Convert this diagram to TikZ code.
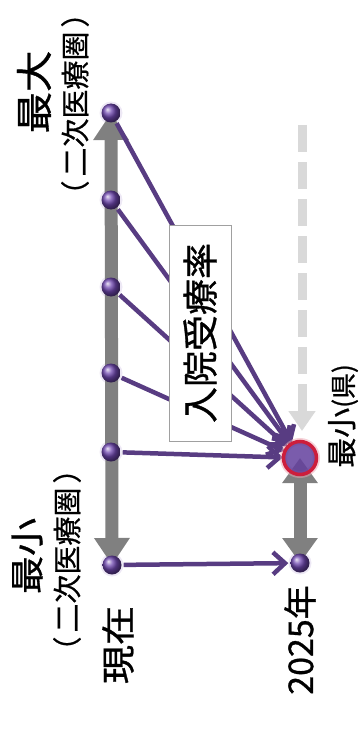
\documentclass[tikz,border=0pt]{standalone}
\usepackage{fontspec}
\newfontfamily\jp[FakeBold=0.9]{Noto Sans CJK JP}
\newfontfamily\jpl[FakeBold=0.6]{Noto Sans CJK JP}
\usetikzlibrary{arrows.meta}
\definecolor{linepurple}{RGB}{88,60,130}
\definecolor{dotpurple}{RGB}{110,70,175}
\definecolor{axisgray}{RGB}{128,128,128}
\definecolor{dashgray}{RGB}{217,217,217}
\definecolor{ringred}{RGB}{205,30,60}
\definecolor{boxgray}{RGB}{160,160,160}
\tikzset{
  dot/.style={circle,inner sep=0pt,minimum size=19pt,shading=ball,ball color=dotpurple},
  halo/.style={circle,inner sep=0pt,minimum size=23pt,fill=dotpurple!25,fill opacity=0.5},
  axis/.style={draw=axisgray,line width=13pt,{Triangle[width=34pt,length=27pt]}-{Triangle[width=34pt,length=27pt]}},
  flow/.style={draw=linepurple,line width=4.5pt,-{Straight Barb[length=12pt,width=22pt,line width=4.5pt]}},
  lbl/.style={rotate=90,inner sep=0pt,font=\jp},
}
\newcommand{\fs}[1]{\fontsize{#1}{#1}\selectfont}
\newcommand{\lpar}{\makebox[17pt][l]{\hspace*{-0.55em}（}}
\newcommand{\rpar}{\makebox[17pt][r]{）\hspace*{-0.55em}}}
\begin{document}
\begin{tikzpicture}[x=1pt,y=-1pt]
\useasboundingbox (0,0) rectangle (363,733);
% anchor nodes
\node[halo] (d1) at (111,113) {};
\node[halo] (d2) at (111,200) {};
\node[halo] (d3) at (111,287) {};
\node[halo] (d4) at (111,373) {};
\node[halo] (d5) at (111,452) {};
\node[halo] (d0) at (112,565) {};
\node[halo] (e0) at (300,563) {};
\node[circle,inner sep=0pt,minimum size=34pt] (goal) at (300,458) {};
\coordinate (dtop) at (302,125);
\coordinate (dtip) at (302,431);
% axes
\draw[axis] (d0.center) -- (d1.center);
\draw[draw=axisgray,line width=13pt,{Triangle[width=34pt,length=25pt]}-{Triangle[width=34pt,length=25pt]}] (goal.center) -- (e0.center);
\draw[draw=dashgray,line width=9pt,dash pattern=on 27pt off 10pt,-{Triangle[width=26pt,length=20pt]}] (dtop) -- (dtip);
% flows
\foreach \d in {d1,d2,d3,d4,d5} \draw[flow] (\d) -- (goal);
\draw[flow] (d0) -- (e0);
% box
\node[draw=boxgray,fill=white,line width=1pt,minimum width=62pt,minimum height=216pt,inner sep=0pt] (box) at (200,333) {};
\node[lbl] (boxt) at (box.center) {\fs{36}入院受療率};
% dots on top
\foreach \n in {d1,d2,d3,d4,d5,d0,e0}
  \node[dot] at (\n.center) {};
% goal circle
\node[circle,draw=ringred!40,line width=7pt,opacity=0.5,minimum size=33pt,inner sep=0pt] at (goal.center) {};
\node[circle,fill=dotpurple!90!black,fill opacity=0.85,draw=ringred,line width=3.5pt,minimum size=33pt,inner sep=0pt] (goalc) at (goal.center) {};
% labels
\node[lbl] (tmax) at (34,92) {\fs{37}\scalebox{1.12}[1]{最大}};
\node[lbl,font=\jpl] (tmaxs) at (75,104) {\fs{29}\lpar 二次医療圏\rpar};
\node[lbl] (tmin) at (27,556) {\fs{34}\scalebox{1.12}[1]{最小}};
\node[lbl,font=\jpl] (tmins) at (67,560) {\fs{29}\lpar 二次医療圏\rpar};
\node[lbl] (tnow) at (118,645) {\fs{34}\scalebox{1.15}[1]{現在}};
\node[lbl] (tyear) at (300,640) {\fs{34}2025年};
\node[lbl] (tpref) at (343,416) {\fs{30}最小\fs{26}(県)};
\end{tikzpicture}
\end{document}
